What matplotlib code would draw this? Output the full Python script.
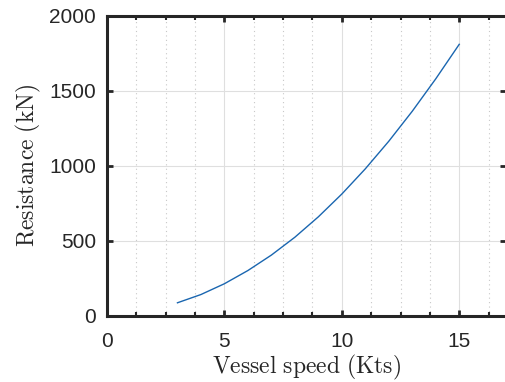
import numpy as np
import matplotlib.pyplot as plt
from matplotlib.ticker import MultipleLocator

# === データ ===
speed_kts = [3, 4, 5, 6, 7, 8, 9, 10, 11, 12, 13, 14, 15]
resistance_kn = [85, 140, 212, 300, 403, 522, 658, 810, 978, 1162, 1362, 1578, 1808]

x_ticks = [0, 5, 10, 15]
y_ticks = [0, 500, 1000, 1500, 2000]

# === スタイル ===
plt.rcParams['mathtext.fontset'] = 'cm'
axis_color = '#262626'

fig = plt.figure(figsize=(5.05, 3.82), dpi=100)
ax = fig.add_axes([0.2119, 0.174, 0.7905, 0.7854])

ax.plot(speed_kts, resistance_kn, color='#1a66b0', linewidth=1.0, zorder=3)

ax.set_xlim(0, 17)
ax.set_ylim(0, 2000)
ax.set_xticks(x_ticks)
ax.set_yticks(y_ticks)
ax.xaxis.set_minor_locator(MultipleLocator(1.25))

# グリッド
ax.grid(True, which='major', color='#dfdfdf', linewidth=0.8, linestyle='-')
ax.grid(True, which='minor', axis='x', color='#c8c8c8', linewidth=0.8, linestyle=(0, (1, 3)))
ax.set_axisbelow(True)

# 枠と目盛り
for side in ['left', 'right', 'top', 'bottom']:
    ax.spines[side].set_linewidth(2.2)
    ax.spines[side].set_color(axis_color)
ax.tick_params(which='major', direction='in', length=4.5, width=2.0, color=axis_color,
               top=True, right=True, labelsize=15, labelcolor=axis_color, pad=8)
ax.tick_params(axis='x', which='major', pad=12)
ax.tick_params(which='minor', direction='in', length=3, width=1.5, color=axis_color,
               top=True, right=False)
ax.tick_params(axis='y', which='minor', left=False, right=False)
for lbl in ax.get_xticklabels() + ax.get_yticklabels():
    lbl.set_family('Liberation Sans')

ax.set_xlabel(r'$\mathrm{Vessel\ speed\ (Kts)}$', fontsize=17, color=axis_color, labelpad=1)
ax.set_ylabel(r'$\mathrm{Resistance\ (kN)}$', fontsize=17, color=axis_color, labelpad=4)

fig.savefig('out.png', dpi=100)
plt.close(fig)
